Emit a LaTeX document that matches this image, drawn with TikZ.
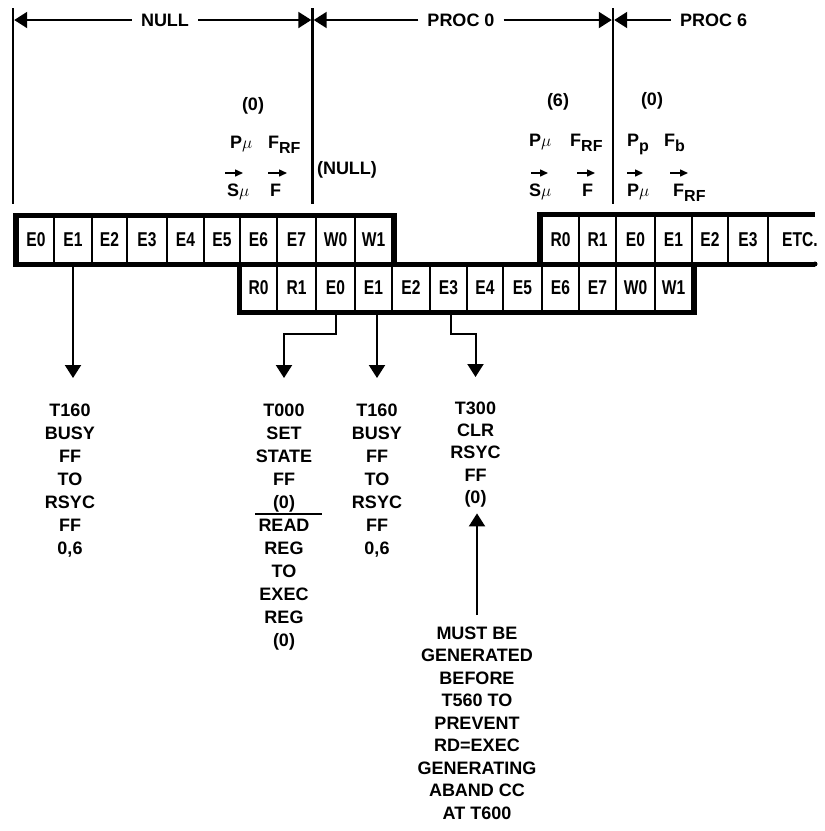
\documentclass[tikz,border=0pt]{standalone}
\usepackage{fontspec}
\setmainfont{Liberation Sans}
\newfontfamily\cellfont{Liberation Sans}[FakeStretch=0.78]
\usetikzlibrary{arrows.meta}
\newcommand\lowsub[1]{\raisebox{-5pt}{\fontsize{16}{16}\selectfont #1}}
\begin{document}
\begin{tikzpicture}[x=1pt,y=-1pt,
  cell/.style={draw, line width=1.6pt, inner sep=0pt, minimum height=48pt,
    font=\cellfont\bfseries\fontsize{20}{20}\selectfont},
  frame/.style={line width=5pt, line join=miter},
  arr/.style={line width=2pt, -{Triangle[width=16pt,length=13pt]}},
  sarr/.style={line width=1.5pt, -{Triangle[width=7pt,length=8pt]}},
  vline/.style={line width=2.5pt},
  lbl/.style={font=\bfseries\fontsize{18}{23}\selectfont, align=center, inner sep=0pt},
  fl/.style={font=\bfseries\fontsize{18}{18}\selectfont, inner sep=0pt, anchor=base west},
  dim/.style={font=\bfseries\fontsize{18}{18}\selectfont, inner xsep=9pt, inner ysep=0pt}]
\useasboundingbox (0,0) rectangle (825,831);

% --- cells, row A
\foreach \n/\t/\l/\r in {a0/E0/18/54, a1/E1/54/92, a2/E2/92/127, a3/E3/127/167,
   a4/E4/167/204, a5/E5/204/240, a6/E6/240/277, a7/E7/277/316, a8/W0/316/355, a9/W1/355/392}{
  \pgfmathsetmacro\w{\r-\l}
  \node[cell, minimum width=\w pt] (\n) at ({(\l+\r)/2},240) {\t};
}
% --- cells, row B
\foreach \n/\t/\l/\r in {b6/R0/240/277, b7/R1/277/316, b8/E0/316/355, b9/E1/355/392,
   b10/E2/392/430, b11/E3/430/467, b12/E4/467/503, b13/E5/503/542, b14/E6/542/579,
   b15/E7/579/616, b16/W0/616/655, b17/W1/655/692}{
  \pgfmathsetmacro\w{\r-\l}
  \node[cell, minimum width=\w pt] (\n) at ({(\l+\r)/2},288) {\t};
}
% --- cells, row C
\foreach \n/\t/\l/\r in {c14/R0/542/579, c15/R1/579/616, c16/E0/616/655, c17/E1/655/692,
   c18/E2/692/728, c19/E3/728/768}{
  \pgfmathsetmacro\w{\r-\l}
  \node[cell, minimum width=\w pt] (\n) at ({(\l+\r)/2},240) {\t};
}
\node[cell, draw=none] (c20) at (800,240) {ETC.};

% --- thick frames
\draw[frame] (815,264) -- (15.5,264) -- (15.5,215.5) -- (394.5,215.5) -- (394.5,264);
\draw[frame] (239,264) -- (239,312.5) -- (694,312.5) -- (694,264);
\draw[frame, line cap=round] (815,264) -- (815,264);
\draw[frame] (539,264) -- (539,214.5) -- (815,214.5);

% --- top dimension lines
\coordinate (v0t) at (13,8);  \coordinate (v0b) at (13,204);
\coordinate (v1t) at (312.5,8); \coordinate (v1b) at (312.5,204);
\coordinate (v2t) at (613,8); \coordinate (v2b) at (613,204);
\draw[vline] (v0t) -- (v0b);
\draw[vline] (v1t) -- (v1b);
\draw[vline] (v2t) -- (v2b);
\node[dim] (null) at (165,20) {NULL};
\node[dim] (p0) at (461,20) {PROC 0};
\node[dim, anchor=west] (p6) at (671,20) {PROC 6};
\draw[arr, shorten >=1.2pt] (null.west) -- (null.west -| v0t);
\draw[arr, shorten >=1.2pt] (null.east) -- (null.east -| v1t);
\draw[arr, shorten >=1.2pt] (p0.west) -- (p0.west -| v1t);
\draw[arr, shorten >=1.2pt] (p0.east) -- (p0.east -| v2t);
\draw[arr, shorten >=1.2pt] (p6.west) -- (p6.west -| v2t);

% --- transfer labels
\node[lbl] (z0) at (253,106) {(0)};
\node[fl] (pa1) at (230,148.5) {P$\mu$};
\node[fl] (fa1) at (268,148.5) {F\lowsub{RF}};
\draw[sarr] (225,173) -- (243,173);
\draw[sarr] (268,173) -- (287,173);
\node[fl] (sa1) at (227,196.5) {S$\mu$};
\node[fl] (fb1) at (270,196.5) {F};
\node[lbl] (nl) at (347,170) {(NULL)};

\node[lbl] (z6) at (558,102) {(6)};
\node[fl] (pa2) at (529,146) {P$\mu$};
\node[fl] (fa2) at (570,146) {F\lowsub{RF}};
\draw[sarr] (531,173) -- (548,173);
\draw[sarr] (577,173) -- (595,173);
\node[fl] (sa2) at (529,196) {S$\mu$};
\node[fl] (fb2) at (582,196) {F};

\node[lbl] (z7) at (652,101) {(0)};
\node[fl] (pa3) at (627,146) {P\lowsub{p}};
\node[fl] (fa3) at (664,146) {F\lowsub{b}};
\draw[sarr] (627,173) -- (643,173);
\draw[sarr] (670,173) -- (688,173);
\node[fl] (sa3) at (627,196) {P$\mu$};
\node[fl] (fb3) at (673,196) {F\lowsub{RF}};

% --- bottom notes
\node[lbl, anchor=north] (t1) at (70,403.5) {T160\\BUSY\\FF\\TO\\RSYC\\FF\\0,6};
\node[lbl, anchor=north] (t2) at (284,403.5) {T000\\SET\\STATE\\FF\\(0)\\READ\\REG\\TO\\EXEC\\REG\\(0)};
\node[lbl, anchor=north] (t3) at (377,403.5) {T160\\BUSY\\FF\\TO\\RSYC\\FF\\0,6};
\node[lbl, anchor=north, font=\bfseries\fontsize{18}{22.3}\selectfont] (t4) at (475.5,401.5) {T300\\CLR\\RSYC\\FF\\(0)};
\node[lbl, anchor=north, font=\bfseries\fontsize{18}{22.5}\selectfont] (t5) at (477,626.5)
  {MUST BE\\GENERATED\\BEFORE\\T560 TO\\PREVENT\\RD=EXEC\\GENERATING\\ABAND CC\\AT T600};
\coordinate (ol1) at (255,514); \coordinate (ol2) at (322,514);
\draw[line width=1.5pt] (ol1) -- (ol2);

% --- connectors
\draw[arr, shorten >=25.5pt] (a1.south) -- (a1.south |- t1.north);
\draw[arr, shorten >=25.5pt] (b8.south) -- ++(0,21) -| (t2.north);
\draw[arr, shorten >=25.5pt] (b9.south -| t3.north) -- (t3.north);
\draw[arr, shorten >=24.5pt] ([xshift=2.5pt]b11.south) -- ++(0,21) -| (t4.north);
\draw[arr, shorten <=11.5pt, shorten >=6pt] (t5.north) -- (t5.north |- t4.south);
\end{tikzpicture}
\end{document}
